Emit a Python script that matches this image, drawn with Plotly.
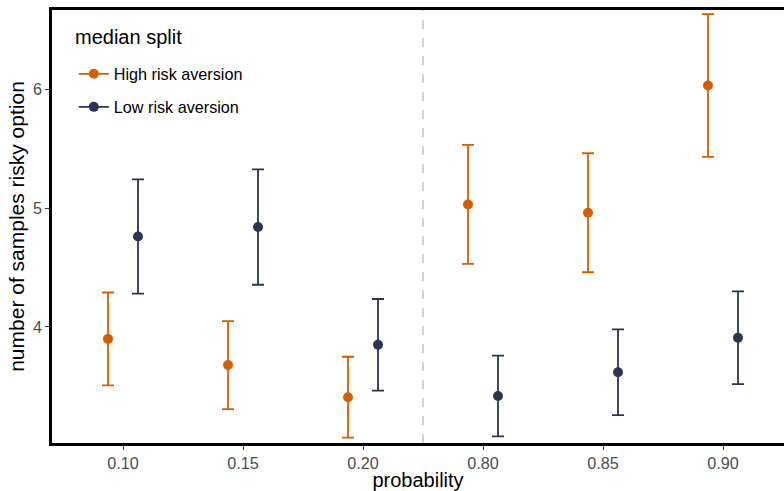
import plotly.graph_objects as go

probabilities = ["0.10", "0.15", "0.20", "0.80", "0.85", "0.90"]
high_mean = [3.90, 3.68, 3.41, 5.03, 4.96, 6.03]
high_err = [0.39, 0.37, 0.34, 0.50, 0.50, 0.60]
low_mean = [4.76, 4.84, 3.85, 3.42, 3.62, 3.91]
low_err = [0.48, 0.485, 0.385, 0.34, 0.36, 0.39]

series = [
    ("High risk aversion", high_mean, high_err, "#D55E00", -0.125),
    ("Low risk aversion", low_mean, low_err, "#2B3553", 0.125),
]

FONT = "Liberation Sans, Arial, sans-serif"
BIG = 20
SMALL = 16.2
pos = list(range(1, len(probabilities) + 1))

fig = go.Figure()
for i, (name, mean, err, color, dodge) in enumerate(series):
    fig.add_trace(go.Scatter(
        x=[p + dodge for p in pos], y=mean, mode="markers",
        marker=dict(color=color, size=10),
        error_y=dict(type="data", array=err, color=color, thickness=1.8, width=6),
        showlegend=False, hoverinfo="skip",
    ))
    fig.add_trace(go.Scatter(
        x=[None], y=[None], mode="lines+markers", name=name,
        line=dict(color=color, width=1.8), marker=dict(color=color, size=10),
        legendgroup=name,
    ))

fig.add_shape(type="line", xref="x", yref="paper", x0=3.5, x1=3.5, y0=0, y1=1,
              line=dict(color="#BBBBBB", width=1.3, dash="dash"), layer="below")

fig.add_annotation(text="median split", xref="paper", yref="paper",
                   x=0.0287, y=0.938, xanchor="left", yanchor="middle",
                   showarrow=False, font=dict(size=BIG, color="black", family=FONT))

fig.update_layout(
    width=784, height=491,
    margin=dict(l=52, r=0, t=10, b=48),
    paper_bgcolor="white", plot_bgcolor="white",
    font=dict(family=FONT, color="black"),
    legend=dict(
        font=dict(size=SMALL, color="black"),
        x=0.0298, y=0.892, xanchor="left", yanchor="top",
        bgcolor="rgba(0,0,0,0)", tracegroupgap=9, itemwidth=30,
    ),
    xaxis=dict(
        range=[0.4083, 6.5083], tickmode="array", tickvals=pos, ticktext=probabilities,
        showgrid=False, zeroline=False, showline=True, linecolor="black", linewidth=2.5,
        mirror=True, ticks="outside", ticklen=4, tickcolor="#333333", tickwidth=1,
        tickfont=dict(size=SMALL, color="#4D4D4D"), automargin=False,
        title=dict(text="probability", font=dict(size=BIG, color="black"), standoff=8),
    ),
    yaxis=dict(
        range=[3.025, 6.664], tickvals=[4, 5, 6], ticktext=["4", "5", "6"],
        showgrid=False, zeroline=False, showline=True, linecolor="black", linewidth=2.5,
        ticks="outside", ticklen=4, tickcolor="#333333", tickwidth=1,
        tickfont=dict(size=SMALL, color="#4D4D4D"), automargin=False,
        title=dict(text="number of samples risky option", font=dict(size=21, color="black"), standoff=3),
    ),
)

fig.write_html("out.html")
